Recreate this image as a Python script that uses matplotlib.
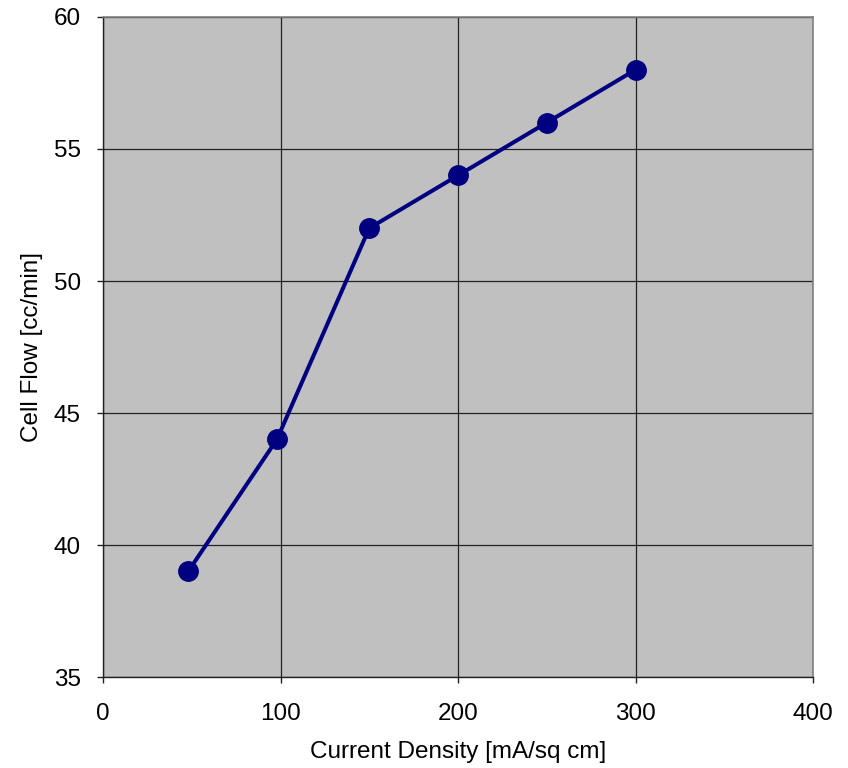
import matplotlib
matplotlib.use('Agg')
import matplotlib.pyplot as plt

# Cell flow vs current density
current_density = [48, 98, 150, 200, 250, 300]
cell_flow = [39, 44, 52, 54, 56, 58]
x_ticks = [0, 100, 200, 300, 400]
y_ticks = [35, 40, 45, 50, 55, 60]

plt.rcParams['font.family'] = ['Liberation Sans', 'DejaVu Sans']

fig = plt.figure(figsize=(8.48, 7.68), dpi=100)
ax = fig.add_axes([103 / 848, 91 / 768, 710 / 848, 660 / 768])
ax.set_facecolor('#c0c0c0')

ax.plot(current_density, cell_flow, color='#000080', lw=2.9,
        marker='o', markersize=14, zorder=3)

ax.set_xlim(0, 400)
ax.set_ylim(35, 60)
ax.set_xticks(x_ticks)
ax.set_yticks(y_ticks)
ax.grid(True, color='#222222', lw=0.9)
ax.set_axisbelow(True)

ax.tick_params(axis='both', direction='out', length=4, width=1,
               color='#222222', labelsize=17.5)
ax.tick_params(axis='x', pad=15)
ax.tick_params(axis='y', pad=12)
for side in ['left', 'bottom']:
    ax.spines[side].set_color('#222222')
    ax.spines[side].set_linewidth(1)
for side in ['top', 'right']:
    ax.spines[side].set_color('#808080')
    ax.spines[side].set_linewidth(1.2)

ax.set_xlabel('Current Density [mA/sq cm]', fontsize=17.5, labelpad=11)
ax.set_ylabel('Cell Flow [cc/min]', fontsize=17.5, labelpad=8)

plt.savefig('out.png', dpi=100)
plt.close()
